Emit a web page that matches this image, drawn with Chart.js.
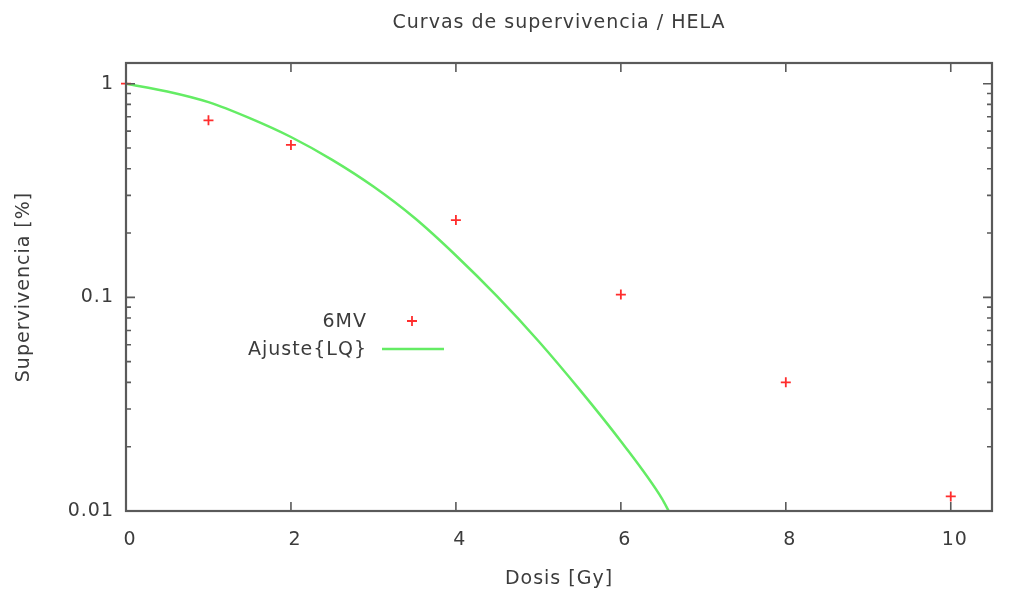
<!DOCTYPE html>
<html>
<head>
<meta charset="utf-8">
<script src="https://cdn.jsdelivr.net/npm/chart.js@4/dist/chart.umd.min.js"></script>
<style>
  html, body { margin: 0; padding: 0; background: #ffffff; }
  #wrap { width: 1015px; height: 592px; }
</style>
</head>
<body>
<div id="wrap"><canvas id="c" width="1015" height="592"></canvas></div>
<script>
// ---- data ----
const doses = [0, 1, 2, 4, 6, 8, 10];
const survival = [1.0, 0.674, 0.517, 0.230, 0.103, 0.040, 0.0117];
const fitDoses = [0, 0.5, 1, 1.5, 2, 2.5, 3, 3.5, 4, 4.5, 5, 5.5, 6, 6.5, 6.58];
const fitSurvival = [1.0, 0.92, 0.82, 0.69, 0.563, 0.44, 0.33, 0.235, 0.157, 0.101, 0.0625, 0.037, 0.0212, 0.0114, 0.01];
const xTickValues = [0, 2, 4, 6, 8, 10];
const yMajorValues = [0.01, 0.1, 1];
const yMinorValues = [0.02, 0.03, 0.04, 0.05, 0.06, 0.07, 0.08, 0.09, 0.2, 0.3, 0.4, 0.5, 0.6, 0.7, 0.8, 0.9];
const seriesNames = ['6MV', 'Ajuste{LQ}'];
const titleText = 'Curvas de supervivencia / HELA';
const xTitle = 'Dosis [Gy]';
const yTitle = 'Supervivencia [%]';

const FONT = 'DejaVu Sans';
const FS = 19;
const TXT = '#3c3c3c';
const FRAME = '#5a5a5a';
const RED = 'rgb(255,45,45)';
const GREEN = 'rgb(100,236,100)';

const spacingPlugin = {
  id: 'spacing',
  beforeUpdate(chart) { chart.ctx.letterSpacing = '1px'; },
  beforeLayout(chart) { chart.ctx.letterSpacing = '1px'; },
  beforeDraw(chart) { chart.ctx.letterSpacing = '1px'; }
};

const framePlugin = {
  id: 'frame',
  afterDatasetsDraw(chart) {
    const ctx = chart.ctx;
    const a = chart.chartArea;
    const xs = chart.scales.x, ys = chart.scales.y;
    ctx.save();
    ctx.strokeStyle = FRAME;
    ctx.lineWidth = 1.6;
    ctx.beginPath();
    xTickValues.forEach(v => {
      const px = xs.getPixelForValue(v);
      ctx.moveTo(px, a.bottom); ctx.lineTo(px, a.bottom - 9);
      ctx.moveTo(px, a.top); ctx.lineTo(px, a.top + 9);
    });
    yMajorValues.forEach(v => {
      const py = ys.getPixelForValue(v);
      ctx.moveTo(a.left, py); ctx.lineTo(a.left + 9, py);
      ctx.moveTo(a.right, py); ctx.lineTo(a.right - 9, py);
    });
    yMinorValues.forEach(v => {
      const py = ys.getPixelForValue(v);
      ctx.moveTo(a.left, py); ctx.lineTo(a.left + 5, py);
      ctx.moveTo(a.right, py); ctx.lineTo(a.right - 5, py);
    });
    ctx.stroke();
    ctx.lineWidth = 2.2;
    ctx.strokeRect(a.left, a.top, a.right - a.left, a.bottom - a.top);
    ctx.restore();
  },
  afterDraw(chart) {
    const ctx = chart.ctx;
    ctx.save();
    ctx.letterSpacing = '1px';
    ctx.font = FS + 'px "' + FONT + '"';
    ctx.fillStyle = TXT;
    ctx.textAlign = 'right';
    ctx.textBaseline = 'middle';
    ctx.fillText(seriesNames[0], 367, 322);
    ctx.fillText(seriesNames[1], 367, 350);
    ctx.strokeStyle = RED;
    ctx.lineWidth = 1.8;
    ctx.beginPath();
    ctx.moveTo(407, 321); ctx.lineTo(417, 321);
    ctx.moveTo(412, 316); ctx.lineTo(412, 326);
    ctx.stroke();
    ctx.strokeStyle = GREEN;
    ctx.lineWidth = 2.5;
    ctx.beginPath();
    ctx.moveTo(382, 349); ctx.lineTo(444, 349);
    ctx.stroke();
    ctx.restore();
  }
};

new Chart(document.getElementById('c'), {
  type: 'scatter',
  data: {
    datasets: [
      {
        label: seriesNames[0],
        data: doses.map((d, i) => ({ x: d, y: survival[i] })),
        pointStyle: 'cross',
        pointRadius: 5,
        pointBorderWidth: 1.8,
        borderColor: RED,
        backgroundColor: RED,
        showLine: false,
        clip: false
      },
      {
        label: seriesNames[1],
        data: fitDoses.map((d, i) => ({ x: d, y: fitSurvival[i] })),
        showLine: true,
        pointRadius: 0,
        borderColor: GREEN,
        borderWidth: 2.5,
        cubicInterpolationMode: 'monotone',
        fill: false
      }
    ]
  },
  options: {
    responsive: false,
    animation: false,
    layout: { padding: { left: 0, right: 23, top: 0, bottom: 0 } },
    plugins: {
      legend: { display: false },
      tooltip: { enabled: false },
      title: {
        display: true,
        text: titleText,
        fullSize: false,
        color: TXT,
        font: { family: FONT, size: FS, weight: 'normal', lineHeight: 1.2 },
        padding: { top: 11.6, bottom: 28.6 }
      }
    },
    scales: {
      x: {
        type: 'linear',
        min: 0,
        max: 10.5,
        grid: { display: false, drawTicks: false },
        border: { display: false },
        afterBuildTicks: s => { s.ticks = xTickValues.map(v => ({ value: v })); },
        afterFit: s => { s.height = 81; },
        ticks: {
          color: TXT,
          padding: 18,
          labelOffset: 4,
          font: { family: FONT, size: FS },
          maxRotation: 0,
          autoSkip: false,
          callback: v => String(v)
        },
        title: {
          display: true,
          text: xTitle,
          color: TXT,
          font: { family: FONT, size: FS, lineHeight: 1.2 },
          padding: { top: 0, bottom: 1.6 }
        }
      },
      y: {
        type: 'logarithmic',
        min: 0.01,
        max: 1.25,
        grid: { display: false, drawTicks: false },
        border: { display: false },
        afterBuildTicks: s => { s.ticks = yMajorValues.map(v => ({ value: v, major: true })); },
        afterFit: s => { s.width = 126; },
        ticks: {
          color: TXT,
          padding: 12,
          autoSkip: false,
          font: { family: FONT, size: FS },
          callback: v => String(v)
        },
        title: {
          display: true,
          text: yTitle,
          color: TXT,
          font: { family: FONT, size: FS, lineHeight: 1.2 },
          padding: { top: 12.6, bottom: 0 }
        }
      }
    }
  },
  plugins: [spacingPlugin, framePlugin]
});
</script>
</body>
</html>
